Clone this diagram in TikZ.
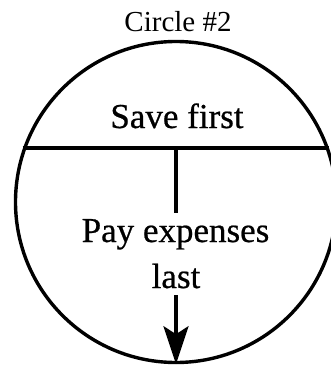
\documentclass[tikz,border=0pt]{standalone}
\usepackage{fontspec}
\setmainfont{Liberation Serif}
\newfontfamily\heavyserif[FakeBold=0.6]{Liberation Serif}
\usetikzlibrary{arrows.meta,calc}
\begin{document}
\begin{tikzpicture}[x=1pt,y=-1pt,
  lbl/.style={anchor=base,inner sep=0pt,font=\heavyserif\fontsize{35}{40}\selectfont},
  ttl/.style={anchor=base,inner sep=0pt,font=\fontsize{29}{34}\selectfont},
  ring/.style={circle,draw,line width=3.4pt,minimum size=321pt,inner sep=0pt},
  seg/.style={line width=3.8pt},
  flow/.style={line width=3.4pt}]
\useasboundingbox (0,0) rectangle (331,369);
\clip (0,0) rectangle (331,369);
\node[ring] (c) at (176,202) {};
\node[ttl] (t) at (178,32) {Circle \#2};
\node[lbl] (save) at (177,128) {Save first};
\node[lbl] (pay) at (175.5,242) {Pay expenses};
\node[lbl] (last) at (176,288) {last};
\coordinate (cl) at (22.5,148);
\coordinate (cr) at (328.5,148);
\coordinate (cm) at (176,148);
\coordinate (pe) at (176,213);
\coordinate (ls) at (176,295);
\draw[seg] (cl) -- (cr);
\draw[flow] (cm) -- (pe);
\draw[flow,-{Stealth[length=38pt,width=25pt,inset=8pt]}] (ls) -- (ls |- c.south);
\end{tikzpicture}
\end{document}
